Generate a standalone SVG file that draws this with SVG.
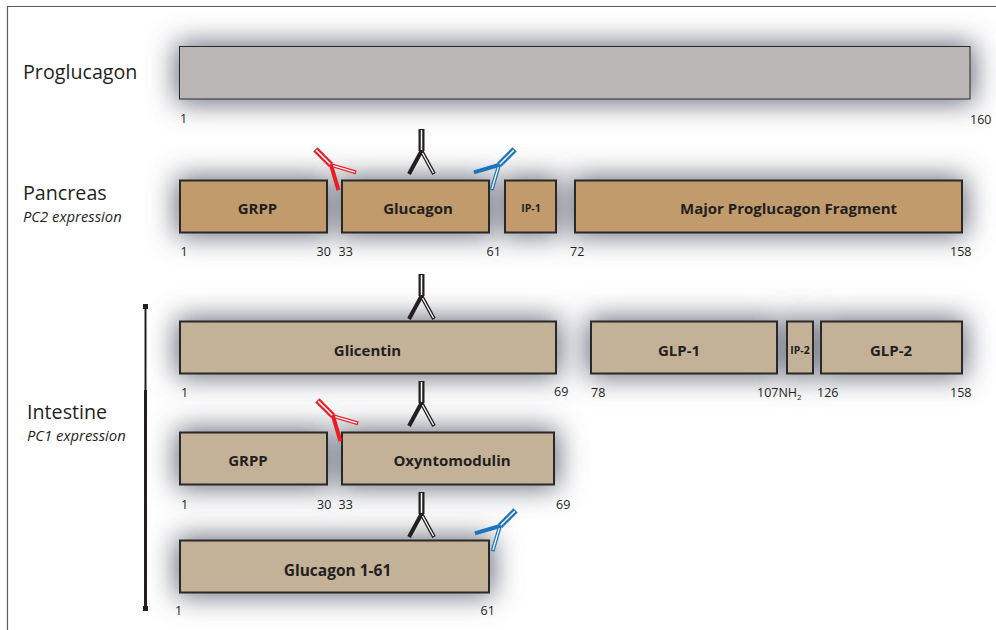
<svg xmlns="http://www.w3.org/2000/svg" width="996" height="630" viewBox="0 0 996 630">
<style>
.n{font:12.5px "Open Sans","Liberation Sans",sans-serif;fill:#231f20}
.l{font:700 15px "Open Sans","Liberation Sans",sans-serif;fill:#231f20;text-anchor:middle}
.s{font:700 10.5px "Open Sans","Liberation Sans",sans-serif;fill:#231f20;text-anchor:middle}
.h{font:19.700px "Open Sans","Liberation Sans",sans-serif;fill:#231f20}
.i{font:italic 14.800px "Open Sans","Liberation Sans",sans-serif;fill:#231f20}
.p{fill:#c29b6d;stroke:#2b2829;stroke-width:2}
.t{fill:#c3b298;stroke:#2b2829;stroke-width:2}
.sh{fill:#666c78;filter:url(#b)}
</style>
<defs>
<filter id="b" filterUnits="userSpaceOnUse" x="0" y="0" width="996" height="630"><feGaussianBlur stdDeviation="14"/></filter>
<g id="ab" fill="none" stroke="currentColor" stroke-linecap="butt">
<path d="M-12.5 23L0 0" stroke-width="4"/>
<path d="M12.5 23L0 0" stroke-width="3.800"/>
<path d="M12 22L1 2" stroke="#fff" stroke-width="1.300"/>
<path d="M0 0V-22" stroke-width="6"/>
<path d="M0 -1V-21" stroke="#fff" stroke-width="1.500"/>
</g>
</defs>
<rect width="996" height="630" fill="#fff"/>
<path d="M7.500 630V6.500H996" fill="none" stroke="#58595b" stroke-width="1.200"/>

<g id="shadows">
<rect class="sh" x="176" y="43" width="798" height="60"/>
<rect class="sh" x="176" y="177" width="155" height="59"/>
<rect class="sh" x="338" y="177" width="155" height="59"/>
<rect class="sh" x="501" y="177" width="59" height="59"/>
<rect class="sh" x="571" y="177" width="395" height="59"/>
<rect class="sh" x="176" y="318" width="384" height="59"/>
<rect class="sh" x="587" y="318" width="194" height="59"/>
<rect class="sh" x="783" y="318" width="34" height="59"/>
<rect class="sh" x="817" y="318" width="149" height="59"/>
<rect class="sh" x="176" y="429" width="155" height="59"/>
<rect class="sh" x="338" y="429" width="220" height="59"/>
<rect class="sh" x="176" y="537" width="317" height="59"/>
</g>

<g id="proglucagon"><rect x="179.500" y="46.500" width="790.500" height="52.500" fill="#bab6b5" stroke="#2b2829" stroke-width="1"/>
<text class="h" x="23" y="79">Proglucagon</text><text class="n" x="180" y="123">1</text><text class="n" x="970" y="124">160</text></g>

<g id="pancreas-label"><text class="h" x="23" y="200">Pancreas</text><text class="i" x="23" y="222">PC2 expression</text></g>
<g id="p-grpp"><rect class="p" x="180" y="180.500" width="147" height="52"/><text class="l" x="257.500" y="214">GRPP</text><text class="n" x="180.500" y="256">1</text><text class="n" x="316.500" y="256">30</text></g>
<g id="p-glucagon"><rect class="p" x="342" y="180.500" width="147" height="52"/><text class="l" x="418" y="214">Glucagon</text><text class="n" x="338.500" y="256">33</text><text class="n" x="486.500" y="256">61</text></g>
<g id="p-ip1"><rect class="p" x="505" y="180.500" width="51" height="52"/><text class="s" x="531" y="212">IP-1</text><text class="n" x="570" y="256">72</text></g>
<g id="p-mpf"><rect class="p" x="575" y="180.500" width="387" height="52"/><text class="l" x="788.500" y="214">Major Proglucagon Fragment</text><text class="n" x="950" y="256">158</text></g>

<g id="intestine-label"><text class="h" x="27" y="419">Intestine</text><text class="i" x="27" y="441">PC1 expression</text></g>
<g id="i-glicentin"><rect class="t" x="180" y="321.500" width="376" height="52"/><text class="l" x="367.500" y="356">Glicentin</text><text class="n" x="181" y="397" font-weight="700">1</text><text class="n" x="554" y="396">69</text></g>
<g id="i-glp1"><rect class="t" x="591" y="321.500" width="186" height="52"/><text class="l" x="679" y="356">GLP-1</text><text class="n" x="591" y="397">78</text><text class="n" x="757" y="397">107NH<tspan font-size="8" dy="3">2</tspan></text></g>
<g id="i-ip2"><rect class="t" x="787" y="321.500" width="26" height="52"/><text class="s" x="800" y="354">IP-2</text></g>
<g id="i-glp2"><rect class="t" x="821" y="321.500" width="141" height="52"/><text class="l" x="891" y="356">GLP-2</text><text class="n" x="817" y="397">126</text><text class="n" x="950" y="397">158</text></g>
<g id="i-grpp"><rect class="t" x="180" y="432.500" width="147" height="52"/><text class="l" x="248" y="466">GRPP</text><text class="n" x="181" y="509">1</text><text class="n" x="317" y="509">30</text></g>
<g id="i-oxyntomodulin"><rect class="t" x="342" y="432.500" width="212" height="52"/><text class="l" x="452" y="466">Oxyntomodulin</text><text class="n" x="338.500" y="509">33</text><text class="n" x="556" y="509">69</text></g>
<g id="i-glucagon"><rect class="t" x="180" y="540.500" width="309" height="52"/><text class="l" x="337.500" y="576" style="font-size:15.500px">Glucagon 1-61</text><text class="n" x="175" y="615">1</text><text class="n" x="480.500" y="615">61</text></g>

<g id="connectors">
<path d="M145.500 306V608" stroke="#231f20" stroke-width="2" fill="none"/>
<path d="M145.500 390V608" stroke="#231f20" stroke-width="3" fill="none"/>
<rect x="143" y="304" width="5" height="5" fill="#231f20"/>
<rect x="143" y="606" width="5" height="5" fill="#231f20"/>
<use href="#ab" transform="translate(421.500 151)" color="#231f20"/>
<use href="#ab" transform="translate(331 165) rotate(-45)" color="#ed1c24"/>
<use href="#ab" transform="translate(499 165) rotate(45)" color="#1b75bc"/>
<use href="#ab" transform="translate(421.500 296)" color="#231f20"/>
<use href="#ab" transform="translate(421.500 403)" color="#231f20"/>
<use href="#ab" transform="translate(333 416) rotate(-45)" color="#ed1c24"/>
<use href="#ab" transform="translate(421.500 514)" color="#231f20"/>
<use href="#ab" transform="translate(500 526) rotate(45)" color="#1b75bc"/>
</g>
</svg>
